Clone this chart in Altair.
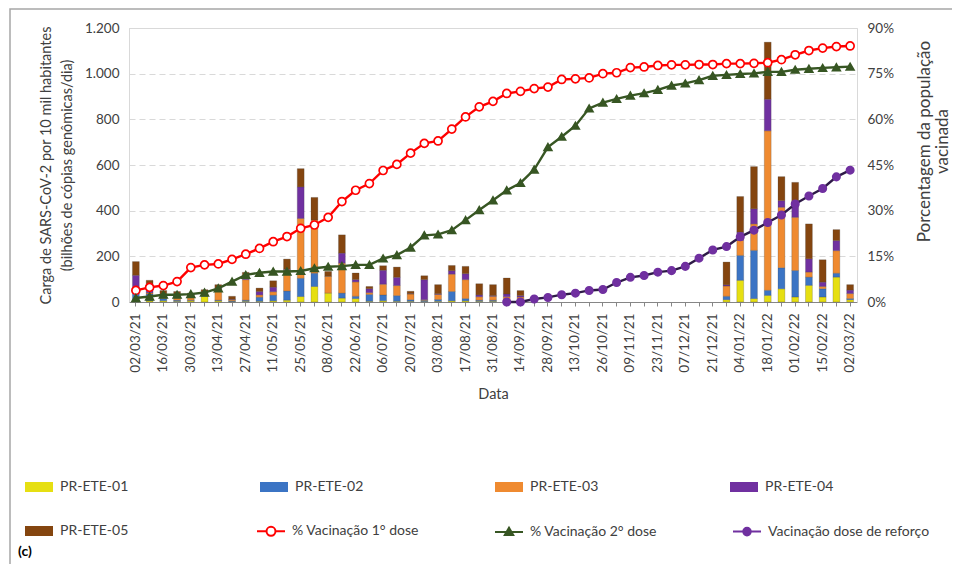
import json
import altair as alt
import pandas as pd

# ---------------- data ----------------
dates = ["02/03/21", "09/03/21", "16/03/21", "23/03/21", "30/03/21", "06/04/21", "13/04/21",
         "20/04/21", "27/04/21", "04/05/21", "11/05/21", "18/05/21", "25/05/21", "01/06/21",
         "08/06/21", "15/06/21", "22/06/21", "29/06/21", "06/07/21", "13/07/21", "20/07/21",
         "27/07/21", "03/08/21", "10/08/21", "17/08/21", "24/08/21", "31/08/21", "07/09/21",
         "14/09/21", "21/09/21", "28/09/21", "05/10/21", "13/10/21", "19/10/21", "26/10/21",
         "02/11/21", "09/11/21", "16/11/21", "23/11/21", "30/11/21", "07/12/21", "14/12/21",
         "21/12/21", "28/12/21", "04/01/22", "11/01/22", "18/01/22", "25/01/22", "01/02/22",
         "08/02/22", "15/02/22", "22/02/22", "02/03/22"]
shown_labels = dates[::2]

stations = ["PR-ETE-01", "PR-ETE-02", "PR-ETE-03", "PR-ETE-04", "PR-ETE-05"]
ete01 = [8, 5, 5, 3, 5, 25, 5, 2, 3, 3, 5, 8, 24, 68, 39, 17, 15, 3, 5, 3, 3, 2, 3, 5, 5, 3, 3, 3, 2] \
    + [0] * 14 + [10, 95, 15, 29, 58, 22, 73, 22, 109, 10]
ete02 = [35, 30, 10, 5, 3, 3, 3, 3, 5, 18, 25, 40, 80, 58, 0, 22, 10, 30, 26, 25, 7, 5, 8, 41, 10, 5, 5, 3, 3] \
    + [0] * 14 + [15, 109, 211, 22, 92, 116, 36, 36, 17, 5]
ete03 = [20, 5, 10, 10, 15, 12, 50, 5, 90, 10, 15, 90, 262, 233, 73, 131, 63, 8, 47, 44, 25, 3, 22, 76, 83, 15, 17, 17, 17] \
    + [0] * 14 + [45, 66, 116, 699, 265, 233, 22, 10, 99, 22]
ete04 = [54, 30, 5, 3, 3, 2, 3, 2, 7, 15, 20, 5, 138, 0, 0, 44, 10, 17, 61, 36, 2, 88, 3, 15, 26, 8, 3, 12, 6] \
    + [0] * 14 + [5, 36, 66, 138, 29, 58, 58, 19, 44, 15]
ete05 = [60, 25, 20, 25, 13, 12, 15, 13, 25, 15, 28, 45, 80, 99, 22, 80, 29, 10, 20, 45, 10, 17, 40, 23, 32, 49, 48, 70, 22] \
    + [0] * 14 + [100, 156, 185, 250, 105, 95, 153, 98, 48, 24]

series = ["% Vacinação 1° dose", "% Vacinação 2° dose", "Vacinação dose de reforço"]
dose1 = [3.8, 4.8, 5.4, 6.7, 11.3, 12.2, 12.5, 14.0, 15.7, 17.6, 19.8, 21.5, 24.2, 25.3, 27.8,
         33.0, 36.7, 38.9, 43.2, 45.2, 48.9, 52.1, 52.9, 56.8, 60.8, 64.1, 65.9, 68.5, 69.2,
         70.1, 70.6, 73.1, 73.3, 73.6, 75.0, 75.3, 77.0, 77.2, 77.7, 77.9, 77.9, 78.0, 78.0,
         78.3, 78.3, 78.4, 78.6, 79.6, 81.2, 82.6, 83.4, 83.9, 84.1]
dose2 = [1.3, 1.8, 2.4, 2.4, 2.6, 3.1, 4.5, 6.7, 8.9, 9.6, 10.0, 10.0, 10.2, 11.1, 11.6, 11.8,
         12.2, 12.2, 14.3, 15.4, 17.9, 21.9, 22.2, 23.6, 26.9, 30.2, 33.4, 36.7, 39.1, 43.5,
         50.9, 54.3, 57.9, 63.6, 65.5, 66.7, 67.8, 68.6, 69.7, 71.1, 71.8, 72.9, 74.3, 74.6,
         74.9, 75.1, 75.6, 75.6, 76.3, 76.6, 76.9, 77.1, 77.3]
booster = [None] * 27 + [0.0, 0.0, 1.0, 1.5, 2.4, 2.9, 3.8, 4.1, 6.4, 8.1, 8.7, 9.8, 10.3, 11.7,
                         14.4, 17.1, 18.2, 21.4, 23.6, 26.1, 28.6, 32.2, 34.8, 37.3, 41.1, 43.3]

station_colors = ["#e6df12", "#3b74c4", "#ef8a30", "#7030a0", "#84450f"]
line_colors = ["#ff0000", "#375623", "#2e1a47"]
marker_fill = ["#ffffff", "#375623", "#7030a0"]
marker_stroke = ["#ff0000", "#375623", "#7030a0"]
marker_shape = ["circle", "triangle-up", "circle"]
marker_size = [64, 58, 54]

# ---------------- tables ----------------
bar_rows = []
for i, d in enumerate(dates):
    for k, (s, vals) in enumerate(zip(stations, [ete01, ete02, ete03, ete04, ete05])):
        if vals[i] > 0:
            bar_rows.append({"data": d, "estacao": s, "ordem": k, "valor": vals[i]})
bars_df = pd.DataFrame(bar_rows)

line_rows = []
for s, vals in zip(series, [dose1, dose2, booster]):
    for d, v in zip(dates, vals):
        if v is not None:
            line_rows.append({"data": d, "serie": s, "pct": v})
lines_df = pd.DataFrame(line_rows)

TXT = "#404040"
label_expr = "indexof(" + json.dumps(shown_labels) + ", datum.value) >= 0 ? datum.value : ''"

x_enc = alt.X(
    "data:N", sort=dates,
    scale=alt.Scale(domain=dates, paddingInner=0.5, paddingOuter=0.25),
    axis=alt.Axis(title="Data", labelExpr=label_expr, labelAngle=270, labelFontSize=13.5,
                  labelColor=TXT, labelPadding=7, labelOverlap=False, tickSize=4,
                  tickColor="#868686", domainColor="#868686", titleFontSize=14.5,
                  titleFontWeight="normal", titleColor=TXT, titlePadding=15),
)

bar_legend = alt.Legend(
    title=None, orient="none", legendX=-104, legendY=445, columns=4, direction="horizontal",
    symbolType="M-1,-0.357H1V0.357H-1Z", symbolSize=784, symbolStrokeWidth=0,
    labelFontSize=14, labelColor=TXT, labelOffset=7, rowPadding=23, columnPadding=131,
    labelLimit=300, padding=0,
)

bars = alt.Chart(bars_df).mark_bar(stroke="#404040", strokeWidth=0.4, strokeOpacity=0.6).encode(
    x=x_enc,
    y=alt.Y(
        "valor:Q", stack="zero", scale=alt.Scale(domain=[0, 1200]),
        axis=alt.Axis(
            values=list(range(0, 1201, 200)),
            labelExpr="replace(format(datum.value, ','), ',', '.')",
            title=["Carga de SARS-CoV-2 por 10 mil habitantes", "(bilhões de cópias genômicas/dia)"],
            titleFontSize=14.5, titleFontWeight="normal", titleColor=TXT, titleAngle=270,
            titleBaseline="top", titleAlign="center", titleX=-90, titleY=137, titleLineHeight=21,
            labelFontSize=13.5, labelColor=TXT, ticks=False, labelPadding=10,
            domainColor="#d9d9d9", gridColor="#d9d9d9", gridDash=[6, 4],
        ),
    ),
    color=alt.Color("estacao:N", scale=alt.Scale(domain=stations, range=station_colors), legend=bar_legend),
    order=alt.Order("ordem:Q", sort="ascending"),
)

y_right = alt.Y(
    "pct:Q", scale=alt.Scale(domain=[0, 90]),
    axis=alt.Axis(
        orient="right", values=[0, 15, 30, 45, 60, 75, 90], labelExpr="datum.value + '%'",
        grid=False, ticks=False, labelPadding=10, labelFontSize=13.5, labelColor=TXT,
        domainColor="#d9d9d9",
        title=["Porcentagem da população", "vacinada"], titleFontSize=17,
        titleFontWeight="normal", titleColor=TXT, titleAngle=270, titleBaseline="top",
        titleAlign="center", titleX=59, titleY=113, titleLineHeight=18,
    ),
)

lines = alt.Chart(lines_df).mark_line(strokeWidth=2.4).encode(
    x=x_enc, y=y_right,
    color=alt.Color("serie:N", scale=alt.Scale(domain=series, range=line_colors), legend=None),
)

point_layers = []
for s, fc, sc, shp, sz in zip(series, marker_fill, marker_stroke, marker_shape, marker_size):
    point_layers.append(
        alt.Chart(lines_df).transform_filter(alt.datum.serie == s).mark_point(
            filled=True, fill=fc, stroke=sc, shape=shp, size=sz, strokeWidth=1.7, opacity=1
        ).encode(x=x_enc, y=y_right)
    )

# legend-only layer (no rows drawn): symbols are a line with its marker
red_path = "M-1,0H-0.32M0.32,0H1M-0.32,0A0.32,0.32,0,1,1,0.32,0A0.32,0.32,0,1,1,-0.32,0Z"
green_path = "M-1,0H1M-0.3,0.22L0,-0.3L0.3,0.22Z"
purple_path = "M-1,0H1M-0.27,0A0.27,0.27,0,1,1,0.27,0A0.27,0.27,0,1,1,-0.27,0Z"
line_legend = alt.Legend(
    title=None, orient="none", legendX=127, legendY=488, columns=3, direction="horizontal",
    symbolSize=784, symbolStrokeWidth=2, symbolOpacity=1, labelFontSize=14, labelColor=TXT,
    labelOffset=6, columnPadding=72, labelLimit=300, padding=0,
)
legend_layer = alt.Chart(lines_df).transform_filter("false").mark_point(filled=True, opacity=1).encode(
    x=x_enc, y=y_right,
    fill=alt.Fill("serie:N", scale=alt.Scale(domain=series, range=marker_fill), legend=line_legend),
    stroke=alt.Stroke("serie:N", scale=alt.Scale(domain=series, range=marker_stroke), legend=line_legend),
    shape=alt.Shape("serie:N", scale=alt.Scale(domain=series, range=[red_path, green_path, purple_path]),
                    legend=line_legend),
)

one = pd.DataFrame({"k": [0]})
frame = alt.Chart(one).mark_rect(fillOpacity=0, stroke="#a6a6a6", strokeWidth=1.5).encode(
    x=alt.value(-119), x2=alt.value(900), y=alt.value(-19), y2=alt.value(700)
)
panel_tag = alt.Chart(one).mark_text(text="(c)", fontWeight="bold", fontSize=14, align="left",
                                     baseline="middle", color="#000000").encode(
    x=alt.value(-111), y=alt.value(524)
)

right_group = alt.layer(lines, *point_layers, legend_layer)

chart = alt.layer(frame, bars, right_group, panel_tag).resolve_scale(
    y="independent", color="independent"
).properties(
    width=728, height=274,
    autosize=alt.AutoSizeParams(type="none"),
    padding={"left": 121, "top": 20, "right": 95, "bottom": 262},
).configure(font="Lato").configure_view(stroke="#d9d9d9")

chart.save("out.html", embed_options={"renderer": "svg", "actions": False})
